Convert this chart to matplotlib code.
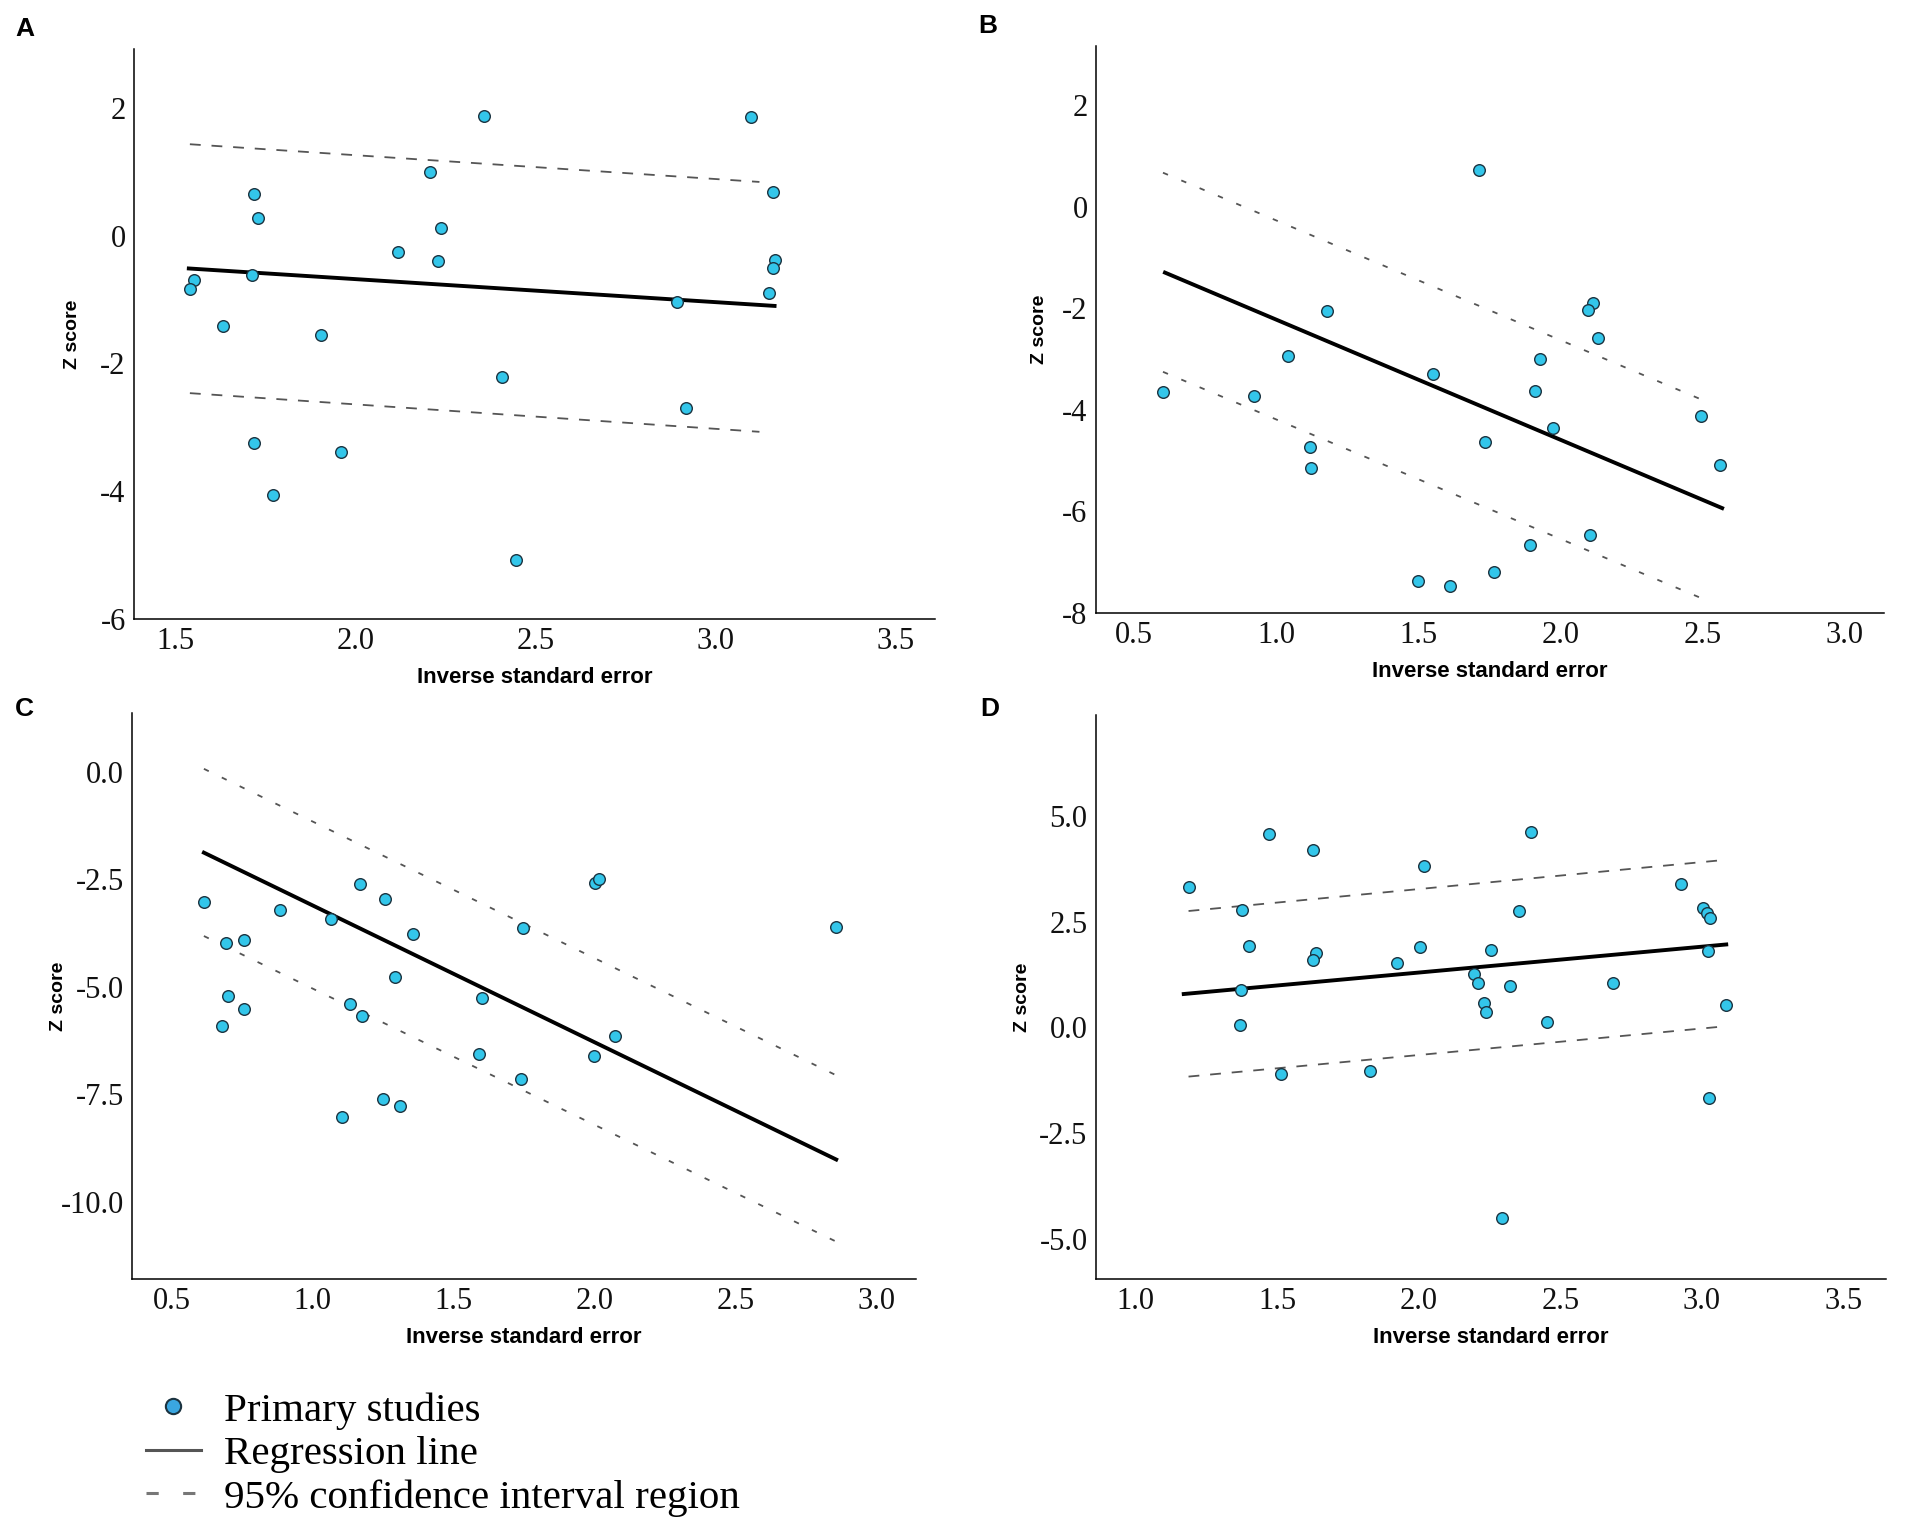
import matplotlib
matplotlib.use('Agg')
import matplotlib.pyplot as plt
from matplotlib.lines import Line2D
from matplotlib.ticker import FormatStrFormatter

# Datos (Z score vs inverse standard error)
a_x = [2.356, 3.098, 2.208, 1.717, 3.159, 1.730, 2.237, 2.119, 2.230, 3.164, 3.161, 1.712,
       1.551, 1.539, 3.149, 2.892, 1.632, 1.903, 2.407, 2.919, 1.717, 1.961, 1.771, 2.447]
a_z = [1.875, 1.86, 1.00, 0.646, 0.69, 0.278, 0.125, -0.25, -0.396, -0.38, -0.514, -0.61,
       -0.70, -0.833, -0.896, -1.04, -1.42, -1.55, -2.22, -2.70, -3.24, -3.39, -4.06, -5.08]
a_fit_x = [1.537, 3.164]
a_fit_z = [-0.514, -1.10]
a_ci_x = [1.54, 3.122]
a_ci_hi = [1.43, 0.84]
a_ci_lo = [-2.465, -3.07]

b_x = [1.715, 1.179, 2.114, 2.097, 2.133, 1.040, 1.928, 1.551, 0.601, 0.922, 1.911,
       2.494, 1.975, 1.734, 1.118, 1.122, 2.563, 2.105, 1.892, 1.766, 1.500, 1.610]
b_z = [0.717, -2.05, -1.90, -2.03, -2.58, -2.94, -3.00, -3.29, -3.65, -3.72, -3.62,
       -4.12, -4.35, -4.64, -4.74, -5.14, -5.08, -6.47, -6.66, -7.19, -7.37, -7.46]
b_fit_x = [0.608, 2.57]
b_fit_z = [-1.295, -5.935]
b_ci_x = [0.601, 2.51]
b_ci_hi = [0.673, -3.826]
b_ci_lo = [-3.25, -7.74]

c_x = [0.615, 0.885, 1.065, 1.167, 1.258, 1.357, 2.000, 2.015, 1.745, 2.857, 0.693, 0.758, 1.294,
       0.701, 0.758, 1.134, 1.177, 1.602, 0.680, 2.071, 1.589, 1.998, 1.738, 1.249, 1.310, 1.106]
c_z = [-3.02, -3.22, -3.43, -2.60, -2.97, -3.77, -2.58, -2.50, -3.64, -3.62, -3.98, -3.91, -4.77,
       -5.22, -5.52, -5.41, -5.69, -5.26, -5.92, -6.15, -6.57, -6.62, -7.14, -7.61, -7.78, -8.02]
c_fit_x = [0.615, 2.857]
c_fit_z = [-1.88, -9.02]
c_ci_x = [0.615, 2.857]
c_ci_hi = [0.07, -7.06]
c_ci_lo = [-3.82, -10.93]

d_x = [1.187, 1.471, 1.628, 2.019, 2.398, 2.927, 1.376, 2.353, 3.004, 3.017, 3.030,
       1.400, 2.006, 1.637, 1.626, 2.254, 3.022, 1.923, 2.194, 2.209, 2.323, 2.686,
       1.374, 2.232, 2.237, 3.084, 2.454, 1.370, 1.514, 1.828, 3.024, 2.295]
d_z = [3.32, 4.57, 4.18, 3.82, 4.62, 3.39, 2.77, 2.74, 2.82, 2.70, 2.59,
       1.92, 1.91, 1.76, 1.60, 1.82, 1.80, 1.52, 1.27, 1.06, 0.99, 1.06,
       0.88, 0.57, 0.36, 0.54, 0.14, 0.06, -1.10, -1.02, -1.66, -4.49]
d_fit_x = [1.17, 3.086]
d_fit_z = [0.79, 1.96]
d_ci_x = [1.187, 3.086]
d_ci_hi = [2.75, 3.96]
d_ci_lo = [-1.16, 0.03]

paneles = {
    'A': dict(x=a_x, z=a_z, fx=a_fit_x, fz=a_fit_z, cx=a_ci_x, hi=a_ci_hi, lo=a_ci_lo,
              rect=[0.0702, 0.5946, 0.4194, 0.3733], xlim=(1.385, 3.61), ylim=(-6, 2.92),
              xt=[1.5, 2.0, 2.5, 3.0, 3.5], yt=[-6, -4, -2, 0, 2], yf='%d', dash=(6, 6),
              letra=(0.013, 0.981), ylab_x=-0.066),
    'B': dict(x=b_x, z=b_z, fx=b_fit_x, fz=b_fit_z, cx=b_ci_x, hi=b_ci_hi, lo=b_ci_lo,
              rect=[0.5738, 0.5986, 0.4126, 0.3713], xlim=(0.365, 3.14), ylim=(-8, 3.17),
              xt=[0.5, 1.0, 1.5, 2.0, 2.5, 3.0], yt=[-8, -6, -4, -2, 0, 2], yf='%d', dash=(3, 8),
              letra=(0.517, 0.983), ylab_x=-0.061),
    'C': dict(x=c_x, z=c_z, fx=c_fit_x, fz=c_fit_z, cx=c_ci_x, hi=c_ci_hi, lo=c_ci_lo,
              rect=[0.0691, 0.1624, 0.4105, 0.3707], xlim=(0.36, 3.14), ylim=(-11.8, 1.37),
              xt=[0.5, 1.0, 1.5, 2.0, 2.5, 3.0], yt=[-10, -7.5, -5, -2.5, 0], yf='%.1f', dash=(3, 8),
              letra=(0.013, 0.536), ylab_x=-0.083),
    'D': dict(x=d_x, z=d_z, fx=d_fit_x, fz=d_fit_z, cx=d_ci_x, hi=d_ci_hi, lo=d_ci_lo,
              rect=[0.5738, 0.1624, 0.4136, 0.3694], xlim=(0.86, 3.65), ylim=(-5.94, 7.38),
              xt=[1.0, 1.5, 2.0, 2.5, 3.0, 3.5], yt=[-5, -2.5, 0, 2.5, 5], yf='%.1f', dash=(6, 6),
              letra=(0.518, 0.536), ylab_x=-0.082),
}

punto_color = '#33c6ea'
borde_color = '#1b3340'

fig = plt.figure(figsize=(19.1, 15.27), dpi=100)

for letra, p in paneles.items():
    ax = fig.add_axes(p['rect'])
    ax.scatter(p['x'], p['z'], s=70, c=punto_color, edgecolors=borde_color, linewidths=1.0, zorder=3)
    ax.plot(p['fx'], p['fz'], color='black', lw=2.8, zorder=2)
    ax.plot(p['cx'], p['hi'], color='#555555', lw=1.3, dashes=p['dash'], zorder=1)
    ax.plot(p['cx'], p['lo'], color='#555555', lw=1.3, dashes=p['dash'], zorder=1)

    ax.set_xlim(p['xlim'])
    ax.set_ylim(p['ylim'])
    ax.set_xticks(p['xt'])
    ax.set_yticks(p['yt'])
    ax.xaxis.set_major_formatter(FormatStrFormatter('%.1f'))
    ax.yaxis.set_major_formatter(FormatStrFormatter(p['yf']))
    for s in ['top', 'right']:
        ax.spines[s].set_visible(False)
    for s in ['left', 'bottom']:
        ax.spines[s].set_linewidth(1.1)
    ax.tick_params(length=0, pad=6)
    for t in ax.get_xticklabels() + ax.get_yticklabels():
        t.set_fontfamily('Liberation Serif')
        t.set_fontsize(22)
        t.set_color('#111111')

    ax.set_xlabel('Inverse standard error', fontsize=16, fontweight='bold',
                  fontfamily='Liberation Sans', labelpad=8)
    ax.set_ylabel('Z score', fontsize=14, fontweight='bold', fontfamily='Liberation Sans')
    ax.yaxis.set_label_coords(p['ylab_x'], 0.5)

    fig.text(p['letra'][0], p['letra'][1], letra, fontsize=19, fontweight='bold',
             fontfamily='Liberation Sans', ha='center', va='center')

# Leyenda
handles = [
    Line2D([], [], marker='o', ls='none', markersize=11, markerfacecolor='#3aa6e0',
           markeredgecolor='#1b3340', markeredgewidth=1.5),
    Line2D([], [], color='#555555', lw=2.2),
    Line2D([], [], color='#777777', lw=2.2, dashes=(4, 8)),
]
labels = ['Primary studies', 'Regression line', '95% confidence interval region']
fig.legend(handles, labels, loc='upper left', bbox_to_anchor=(0.0764, 0.0884),
           frameon=False, borderpad=0, borderaxespad=0, handlelength=1.34,
           handletextpad=0.56, labelspacing=0.14,
           prop={'family': 'Liberation Serif', 'size': 29.5})

fig.savefig('out.png', dpi=100)
